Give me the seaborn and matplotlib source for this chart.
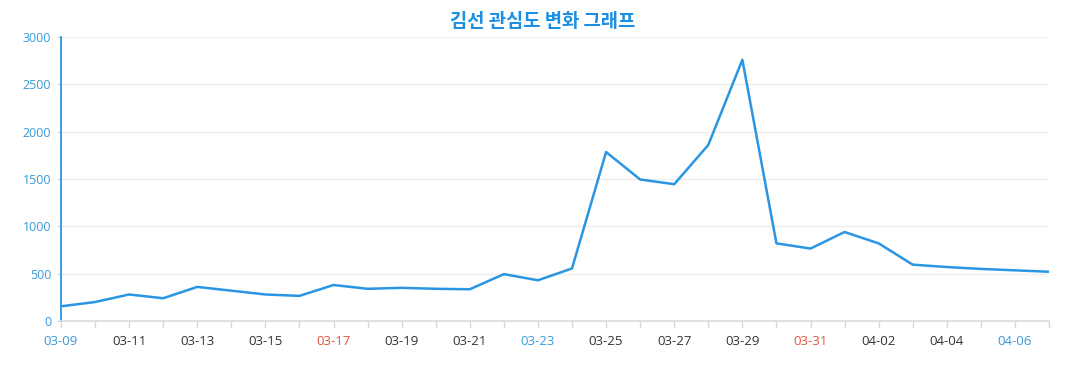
import matplotlib
matplotlib.use("Agg")
import matplotlib.pyplot as plt
import seaborn as sns
import pandas as pd

dates = ["03-09", "03-10", "03-11", "03-12", "03-13", "03-14", "03-15", "03-16",
         "03-17", "03-18", "03-19", "03-20", "03-21", "03-22", "03-23", "03-24",
         "03-25", "03-26", "03-27", "03-28", "03-29", "03-30", "03-31", "04-01",
         "04-02", "04-03", "04-04", "04-05", "04-06", "04-07"]
values = [155, 200, 280, 240, 360, 320, 280, 265,
          380, 340, 350, 340, 335, 495, 430, 555,
          1785, 1495, 1445, 1860, 2760, 820, 765, 940,
          820, 595, 570, 550, 535, 520]
title = "김선 관심도 변화 그래프"
yticks = [0, 500, 1000, 1500, 2000, 2500, 3000]
label_colors = {"03-09": "#3a9ad9", "03-17": "#e0553a", "03-23": "#3a9ad9",
                "03-31": "#e0553a", "04-06": "#3a9ad9"}

sns.set_theme(style="white")
plt.rcParams['font.family'] = ['Open Sans', 'Noto Sans CJK KR', 'DejaVu Sans']

df = pd.DataFrame({"idx": range(len(dates)), "date": dates, "value": values})

fig = plt.figure(figsize=(10.77, 3.9), dpi=100)
ax = fig.add_axes([0.0566, 0.177, 0.9174, 0.728])
sns.lineplot(data=df, x="idx", y="value", ax=ax, color="#2a95e3", linewidth=1.8)

ax.set_xlim(0, len(dates) - 1)
ax.set_ylim(0, 3000)
ax.set_yticks(yticks)
ax.set_yticklabels([str(v) for v in yticks], color="#3a9ad9", fontsize=9)
ax.yaxis.grid(True, color="#eeeeee", linewidth=1)
ax.set_axisbelow(True)

ax.set_xticks(range(len(dates)))
labels = [d if i % 2 == 0 else "" for i, d in enumerate(dates)]
ax.set_xticklabels(labels, fontsize=9.5)
for lab, d in zip(ax.get_xticklabels(), dates):
    lab.set_color(label_colors.get(d, "#333333"))

ax.tick_params(axis="x", length=5, color="#d8d8d8", width=1, pad=5, direction="out")
ax.tick_params(axis="y", length=3, color="#cccccc", width=0.8, pad=4, direction="out")
ax.tick_params(bottom=True, left=True)

for s in ["top", "right"]:
    ax.spines[s].set_visible(False)
ax.spines["left"].set_color("#2a95e3")
ax.spines["left"].set_linewidth(1.3)
ax.spines["bottom"].set_color("#dcdcdc")
ax.spines["bottom"].set_linewidth(1.2)

ax.set_xlabel("")
ax.set_ylabel("")
fig.text(0.504, 0.945, title, ha="center", va="center", fontsize=13.5,
         fontweight="bold", color="#1a8fe3", family=["Noto Sans CJK KR", "DejaVu Sans"])

fig.savefig("out.png", dpi=100, facecolor="white")
